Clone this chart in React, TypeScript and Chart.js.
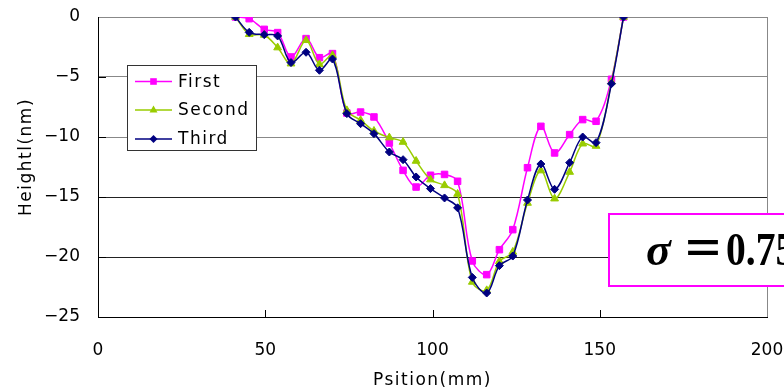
import React, { useEffect, useRef } from 'react';
import { Chart, registerables } from 'chart.js';

Chart.register(...registerables);

// ---- data ----
const positions = [41.1, 45.2, 49.7, 53.7, 57.7, 62.2, 66.2, 70.1, 74.4, 78.5, 82.5, 87.1, 91.2, 95.1, 99.4, 103.6, 107.5, 111.9, 116.2, 120.0, 124.0, 128.4, 132.4, 136.5, 141.0, 144.9, 148.9, 153.5, 157.1];
const firstValues = [0, -0.14, -1.03, -1.3, -3.33, -1.8, -3.39, -3.05, -8.0, -7.92, -8.33, -10.5, -12.78, -14.17, -13.19, -13.12, -13.69, -20.33, -21.47, -19.39, -17.72, -12.56, -9.11, -11.33, -9.8, -8.55, -8.69, -5.19, 0];
const secondValues = [0, -1.44, -1.5, -2.55, -3.89, -1.94, -3.94, -3.19, -7.78, -8.6, -9.5, -10.05, -10.42, -12.0, -13.55, -14.03, -14.75, -22.08, -22.78, -20.36, -19.58, -15.5, -12.8, -15.14, -12.92, -10.56, -10.75, -5.4, 0];
const thirdValues = [0, -1.28, -1.47, -1.58, -3.8, -2.94, -4.44, -3.5, -8.05, -8.89, -9.72, -11.25, -11.89, -13.33, -14.3, -15.08, -15.9, -21.7, -23.0, -20.72, -19.92, -15.25, -12.25, -14.36, -12.14, -10.0, -10.47, -5.56, 0];
const seriesNames = ['First', 'Second', 'Third'];
const seriesColors = ['#FF00FF', '#99CC00', '#000080'];
const xTickValues = [0, 50, 100, 150, 200];
const yTickValues = [0, -5, -10, -15, -20, -25];
const xTitle = 'Psition(mm)';
const yTitle = 'Heightl(nm)';
const sigmaSymbol = 'σ';
const sigmaEquals = '＝';
const sigmaValue = '0.75nm';

const FONT = '"DejaVu Sans"';

function drawMarker(ctx: CanvasRenderingContext2D, kind: number, x: number, y: number, color: string) {
  ctx.save();
  ctx.fillStyle = color;
  ctx.beginPath();
  if (kind === 0) {
    ctx.rect(x - 3.3, y - 3.3, 6.6, 6.6);
  } else if (kind === 1) {
    ctx.moveTo(x, y - 4.5);
    ctx.lineTo(x + 4, y + 2.5);
    ctx.lineTo(x - 4, y + 2.5);
    ctx.closePath();
  } else {
    ctx.moveTo(x, y - 4);
    ctx.lineTo(x + 4, y);
    ctx.lineTo(x, y + 4);
    ctx.lineTo(x - 4, y);
    ctx.closePath();
  }
  ctx.fill();
  ctx.restore();
}

const decorPlugin = {
  id: 'decor',
  afterDraw(chart: any) {
    const ctx: CanvasRenderingContext2D = chart.ctx;
    const xs = chart.scales.x;
    const ys = chart.scales.y;
    const area = chart.chartArea;
    ctx.save();
    // inward tick marks
    ctx.strokeStyle = '#000';
    ctx.lineWidth = 1;
    ctx.beginPath();
    for (const v of xTickValues.slice(1, -1)) {
      const px = Math.round(xs.getPixelForValue(v)) + 0.5;
      ctx.moveTo(px, area.bottom);
      ctx.lineTo(px, area.bottom - 7);
    }
    for (const v of yTickValues.slice(1, -1)) {
      const py = Math.round(ys.getPixelForValue(v)) + 0.5;
      ctx.moveTo(area.left, py);
      ctx.lineTo(area.left + 8, py);
    }
    ctx.stroke();

    // axis titles
    (ctx as any).letterSpacing = '1.5px';
    ctx.fillStyle = '#000';
    ctx.font = `17px ${FONT}`;
    ctx.textAlign = 'center';
    ctx.textBaseline = 'middle';
    ctx.fillText(xTitle, (area.left + area.right) / 2, 381);
    ctx.save();
    ctx.translate(27, 157);
    ctx.rotate(-Math.PI / 2);
    ctx.fillText(yTitle, 0, 0);
    ctx.restore();

    // legend
    const lx = 127, ly = 65, lw = 129, lh = 85;
    ctx.fillStyle = '#fff';
    ctx.fillRect(lx, ly, lw, lh);
    ctx.strokeStyle = '#333';
    ctx.lineWidth = 1;
    ctx.strokeRect(lx + 0.5, ly + 0.5, lw, lh);
    const rows = [81.5, 110, 139];
    seriesNames.forEach((name, i) => {
      const y = rows[i];
      ctx.strokeStyle = seriesColors[i];
      ctx.lineWidth = 1.5;
      ctx.beginPath();
      ctx.moveTo(135, y);
      ctx.lineTo(172, y);
      ctx.stroke();
      drawMarker(ctx, i, 153.5, y, seriesColors[i]);
      ctx.fillStyle = '#000';
      ctx.textAlign = 'left';
      ctx.textBaseline = 'middle';
      ctx.fillText(name, 178, y + 1);
    });

    // sigma annotation box
    (ctx as any).letterSpacing = '0px';
    ctx.fillStyle = '#fff';
    ctx.fillRect(609, 214, 300, 72);
    ctx.strokeStyle = '#FF00FF';
    ctx.lineWidth = 2;
    ctx.strokeRect(609, 214, 300, 72);
    ctx.fillStyle = '#000';
    ctx.textAlign = 'left';
    ctx.textBaseline = 'alphabetic';
    ctx.font = 'italic bold 46px "Liberation Serif"';
    ctx.fillText(sigmaSymbol, 646, 265);
    ctx.font = 'bold 42px "Noto Sans CJK JP"';
    ctx.fillText(sigmaEquals, 682, 264);
    ctx.save();
    ctx.translate(726, 265);
    ctx.scale(0.86, 1);
    ctx.font = 'bold 46px "Liberation Serif"';
    ctx.fillText(sigmaValue, 0, 0);
    ctx.restore();
    ctx.restore();
  },
};

const gridColors: Record<string, string> = { '0': '#888888', '-5': '#888888', '-10': '#888888', '-15': '#222222', '-20': '#222222' };

export default function App() {
  const ref = useRef<HTMLCanvasElement | null>(null);
  useEffect(() => {
    document.body.style.margin = '0';
    const canvas = ref.current!;
    const makeData = (vals: number[]) => positions.map((x, i) => ({ x, y: vals[i] }));
    const styles = ['rect', 'triangle', 'rectRot'];
    const radii = [4.6, 4.5, 4];
    const allValues = [firstValues, secondValues, thirdValues];
    const chart = new Chart(canvas, {
      type: 'line',
      data: {
        datasets: seriesNames.map((name, i) => ({
          label: name,
          data: makeData(allValues[i]),
          borderColor: seriesColors[i],
          backgroundColor: seriesColors[i],
          pointBackgroundColor: seriesColors[i],
          pointBorderColor: seriesColors[i],
          pointBorderWidth: 1,
          pointStyle: styles[i] as any,
          pointRadius: radii[i],
          borderWidth: 1.5,
          tension: 0.35,
          fill: false,
          order: 3 - i,
        })),
      },
      options: {
        responsive: false,
        animation: false,
        devicePixelRatio: 1,
        layout: { padding: { left: 0, top: 17, right: 17, bottom: 0 } },
        plugins: { legend: { display: false }, tooltip: { enabled: false } },
        scales: {
          x: {
            type: 'linear',
            min: 0,
            max: 200,
            afterBuildTicks: (s: any) => { s.ticks = xTickValues.map((v) => ({ value: v })); },
            afterFit: (s: any) => {
              s.height = 73;
              s.paddingLeft = 0;
              s.paddingRight = 0;
            },
            grid: {
              drawTicks: false,
              lineWidth: 1,
              color: (c: any) => (c.tick && c.tick.value === 200 ? '#888888' : 'rgba(0,0,0,0)'),
            },
            border: { color: '#000', width: 1 },
            ticks: { padding: 23, color: '#000', font: { family: FONT, size: 17 }, maxRotation: 0, autoSkip: false },
          },
          y: {
            type: 'linear',
            min: -25,
            max: 0,
            afterBuildTicks: (s: any) => { s.ticks = yTickValues.map((v) => ({ value: v })); },
            afterFit: (s: any) => {
              s.width = 98;
              s.paddingTop = 0;
              s.paddingBottom = 0;
            },
            grid: {
              drawTicks: false,
              lineWidth: 1,
              color: (c: any) => (c.tick ? gridColors[String(c.tick.value)] || 'rgba(0,0,0,0)' : 'rgba(0,0,0,0)'),
            },
            border: { color: '#000', width: 1 },
            ticks: {
              padding: 18,
              color: '#000',
              font: { family: FONT, size: 17 },
              autoSkip: false,
              callback: (v: any) => String(v).replace('-', '−'),
            },
          },
        },
      },
      plugins: [decorPlugin],
    } as any);
    return () => chart.destroy();
  }, []);
  return (
    <div style={{ position: 'absolute', left: 0, top: 0, width: 784, height: 390, background: '#fff' }}>
      <canvas ref={ref} width={784} height={390} style={{ display: 'block' }} />
    </div>
  );
}
